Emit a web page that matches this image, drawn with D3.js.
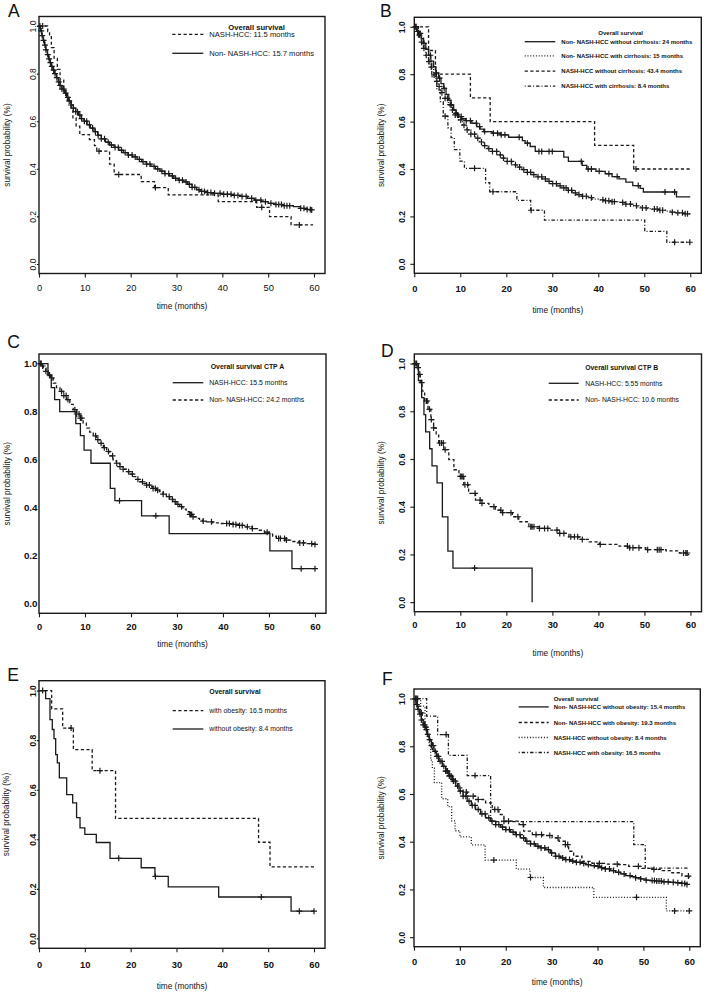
<!DOCTYPE html>
<html lang="en">
<head>
<meta charset="utf-8">
<title>Overall survival NASH-HCC vs Non- NASH-HCC</title>
<style>
    body { margin: 0; background: #fff; }
    svg { display: block; font-family: "Liberation Sans", Arial, Helvetica, sans-serif; }
    .box { fill: none; stroke: #1a1a1a; stroke-width: 1.4px; }
    .tick line { stroke: #1a1a1a; stroke-width: 1.1px; }
    .km { fill: none; stroke: #1a1a1a; stroke-width: 1.3px; }
    .cens { fill: none; stroke: #1a1a1a; stroke-width: 1.2px; }
    .leg line { stroke: #1a1a1a; stroke-width: 1.3px; }
</style>
</head>
<body>
<svg width="704" height="992"></svg>
<script src="https://cdn.jsdelivr.net/npm/d3@7"></script>
<script>
    // ticks and titles shared by all six panels
    const X_TICKS = [0, 10, 20, 30, 40, 50, 60];
    const Y_TICKS = [0, 0.2, 0.4, 0.6, 0.8, 1.0];
    const X_TITLE = "time (months)";
    const Y_TITLE = "survival probability (%)";

    // ---------- A ----------
    const A_TITLE = "Overall survival";
    const A_LABELS = ["NASH-HCC: 11.5 months", "Non- NASH-HCC: 15.7 months"];
    const a_nash_steps = [[0,1],[1.9,.977],[2.3,.955],[2.7,.909],[3.3,.864],[4.0,.818],[4.6,.773],[5.4,.727],[6.2,.682],[7.0,.656],[7.4,.614],[8.1,.579],[8.9,.544],[11.0,.523],[12.1,.497],[12.6,.474],[15.4,.42],[16.4,.376],[22.3,.346],[25.2,.321],[28.2,.29],[39.1,.262],[47.5,.238],[50.3,.199],[55.0,.164],[59.8,.164]];
    const a_nash_cens = [0.8, 13.1, 17.4, 25.4, 48.6, 56.8];
    const a_non_steps = [[0,1],[0.3,.98],[0.6,.96],[0.9,.94],[1.2,.92],[1.5,.90],[1.8,.88],[2.1,.862],[2.4,.846],[2.7,.83],[3.0,.815],[3.4,.80],[3.8,.783],[4.2,.765],[4.6,.75],[5.0,.735],[5.5,.718],[6.0,.70],[6.5,.685],[7.0,.668],[7.5,.655],[8.0,.64],[8.6,.626],[9.2,.611],[9.8,.60],[10.5,.585],[11.2,.571],[12.0,.556],[12.8,.541],[13.6,.526],[14.5,.512],[15.4,.50],[16.4,.49],[17.4,.478],[18.4,.468],[19.4,.458],[20.4,.45],[21.4,.44],[22.4,.43],[23.4,.42],[24.4,.41],[25.4,.40],[26.4,.39],[27.4,.38],[28.4,.37],[29.4,.36],[30.4,.352],[31.4,.345],[32.4,.335],[33.4,.322],[34.4,.312],[35.4,.305],[36.6,.30],[38.0,.297],[40.0,.293],[42.0,.288],[44.0,.284],[45.5,.276],[47.0,.268],[48.5,.262],[50.0,.255],[51.5,.25],[53.0,.245],[55.5,.241],[57.0,.234],[58.5,.229],[59.5,.227]];
    const a_non_cens = [0.2,0.5,0.7,1.0,1.3,1.5,1.9,2.2,2.5,2.8,3.2,3.5,3.9,4.3,4.6,5.0,5.4,5.8,6.3,6.6,7.0,7.5,8.0,8.4,8.9,9.3,9.9,10.4,11.0,11.7,12.3,12.9,13.6,14.3,15.1,15.8,16.6,17.3,18.0,18.8,19.5,20.3,21.0,21.9,22.7,23.5,24.2,25.1,25.9,26.8,27.5,28.3,29.1,29.8,30.6,31.3,32.1,32.8,33.4,34.0,34.9,35.5,36.1,36.8,37.5,38.3,39.5,40.3,41.1,41.9,42.6,43.4,44.3,45.2,46.4,47.3,48.4,49.4,50.6,51.7,52.3,52.9,53.5,54.1,54.7,57.1,57.8,58.5,59.2,59.5];

    // ---------- B ----------
    const B_TITLE = "Overall survival";
    const B_LABELS = ["Non- NASH-HCC without cirrhosis: 24 months", "Non- NASH-HCC with cirrhosis: 15 months",
                      "NASH-HCC without cirrhosis: 43.4 months", "NASH-HCC with cirrhosis: 8.4 months"];
    const b_non_nocirr_steps = [[0,1],[0.5,.985],[0.94,.972],[1.5,.95],[2.0,.93],[2.5,.905],[3.1,.88],[3.6,.855],[4.2,.832],[4.7,.805],[5.3,.783],[5.8,.76],[6.4,.74],[6.9,.715],[7.5,.69],[8.0,.67],[8.55,.649],[9.1,.635],[9.6,.621],[10.3,.612],[11.1,.604],[12.5,.593],[13.6,.579],[14.3,.568],[15.1,.558],[16.9,.551],[18.7,.544],[20.5,.534],[23.5,.52],[24.1,.509],[25.2,.495],[26.3,.474],[32.5,.45],[33.5,.432],[36.5,.415],[37.5,.40],[39.5,.39],[41.5,.38],[43.0,.368],[44.5,.358],[46.0,.345],[47.5,.33],[49.1,.318],[49.8,.303],[57.0,.282],[60,.282]];
    const b_non_nocirr_cens = [0.4,1.3,2.1,3.5,4.8,5.5,6.5,8.0,9.1,10.2,11.3,12.2,13.5,14.2,15.3,17.2,18.1,18.9,19.7,22.8,24.6,27.1,27.7,29.3,30.0,36.3,37.8,38.5,40.2,42.3,44.1,48.7,54.5,56.6];
    const b_non_cirr_steps = [[0,1],[0.5,.98],[0.94,.965],[1.5,.935],[2.0,.909],[2.5,.88],[3.1,.853],[3.6,.83],[4.2,.797],[4.7,.77],[5.3,.748],[6.0,.722],[6.7,.698],[7.4,.672],[8.2,.649],[8.9,.628],[9.6,.607],[10.5,.585],[11.4,.565],[12.3,.547],[13.3,.53],[14.2,.514],[15.1,.499],[16.0,.486],[16.9,.474],[18.0,.46],[19.1,.446],[20.2,.432],[21.2,.418],[22.3,.408],[23.4,.397],[24.5,.386],[25.6,.376],[26.7,.367],[27.8,.358],[28.9,.348],[29.9,.338],[31.0,.329],[32.1,.32],[33.2,.31],[34.3,.299],[35.4,.292],[36.4,.285],[37.5,.279],[38.6,.273],[40.0,.27],[41.5,.266],[43.0,.262],[44.4,.259],[45.8,.252],[47.3,.245],[48.4,.24],[49.5,.236],[50.6,.233],[51.7,.231],[53.2,.226],[54.6,.222],[55.7,.218],[56.7,.215],[58.4,.211],[59.8,.208]];
    const b_non_cirr_cens = [0.3,0.7,1.1,1.6,2.1,2.6,3.2,3.7,4.3,4.9,5.4,6.0,6.7,7.2,7.8,8.3,8.9,9.4,10.1,10.8,11.5,12.3,13.1,13.8,14.6,15.3,16.2,17.0,17.9,18.7,19.4,20.2,21.1,22.0,22.9,23.8,24.6,25.3,26.0,26.9,27.7,28.5,29.3,30.1,30.9,31.7,32.5,33.0,33.5,34.2,35.0,35.8,36.6,37.4,38.5,41.0,41.6,42.3,43.0,43.5,45.3,46.0,47.0,48.3,49.6,50.4,52.2,52.8,53.4,54.0,56.1,57.3,58.3,58.9,59.4];
    const b_nash_nocirr_steps = [[0,1],[3.1,.9],[4.6,.8],[12.2,.7],[16.5,.6],[39.2,.5],[47.7,.4],[60,.4]];
    const b_nash_nocirr_cens = [48.2];
    const b_nash_cirr_steps = [[0,1],[0.9,.958],[2.0,.909],[3.1,.846],[3.8,.79],[4.9,.734],[5.65,.684],[6.3,.623],[7.3,.574],[8.0,.532],[8.7,.482],[9.9,.433],[10.9,.403],[15.5,.342],[16.4,.304],[22.3,.268],[25.3,.226],[28.3,.184],[50.1,.137],[54.9,.091],[59.9,.091]];
    const b_nash_cirr_cens = [6.7, 13.1, 17.1, 25.4, 56.6, 59.9];

    // ---------- C ----------
    const C_TITLE = "Overall survival CTP A";
    const C_LABELS = ["NASH-HCC: 15.5 months", "Non- NASH-HCC: 24.2 months"];
    const c_nash_steps = [[0,1],[1.95,.95],[2.67,.9],[3.4,.85],[4.5,.8],[8.0,.75],[9.0,.70],[9.8,.64],[11.3,.585],[15.5,.48],[16.5,.429],[22.3,.366],[28.3,.292],[50.2,.22],[55.0,.146],[60,.146]];
    const c_nash_cens = [0.5, 17.5, 25.4, 57.0, 60.0];
    const c_non_steps = [[0,1],[0.5,.99],[0.94,.982],[1.5,.968],[2.0,.953],[2.5,.94],[3.1,.919],[3.8,.9],[4.55,.884],[5.3,.867],[6.0,.85],[6.7,.83],[7.45,.808],[8.2,.79],[8.9,.773],[9.6,.752],[10.3,.731],[11.0,.715],[11.8,.699],[12.5,.683],[13.2,.668],[14.0,.65],[14.7,.634],[15.4,.616],[16.1,.599],[16.8,.585],[17.6,.571],[18.3,.56],[19.0,.55],[19.8,.54],[20.5,.529],[21.2,.518],[21.9,.508],[22.6,.501],[23.4,.494],[24.1,.487],[24.8,.48],[25.5,.473],[26.2,.467],[27.0,.456],[27.7,.446],[28.4,.435],[29.1,.425],[29.8,.414],[30.6,.404],[31.3,.394],[32.0,.383],[32.7,.372],[33.5,.362],[34.2,.355],[34.9,.348],[35.6,.344],[36.4,.341],[37.8,.337],[39.3,.334],[42.2,.33],[43.6,.326],[45.0,.32],[46.4,.313],[47.9,.306],[49.0,.298],[50.1,.29],[50.8,.281],[51.6,.272],[53.7,.265],[55.2,.259],[56.6,.253],[58.3,.25],[60,.247]];
    const c_non_cens = [0.3,0.8,1.5,2.3,2.8,4.9,5.4,5.9,6.3,7.8,8.2,8.7,9.0,9.3,12.3,12.8,13.5,14.2,15.1,16.0,16.9,17.6,18.3,19.5,20.3,21.5,22.5,23.4,24.0,24.8,25.3,25.8,27.0,28.3,29.0,29.6,30.2,31.0,32.8,33.0,33.2,33.5,35.7,37.5,40.8,41.4,42.2,42.8,43.6,44.2,45.3,46.4,49.6,52.1,52.5,53.4,53.8,56.7,57.5,59.3,60.0];

    // ---------- D ----------
    const D_TITLE = "Overall survival CTP B";
    const D_LABELS = ["NASH-HCC: 5.55 months", "Non- NASH-HCC: 10.6 months"];
    const d_nash_steps = [[0,1],[0.9,.929],[1.6,.857],[2.1,.786],[2.47,.714],[3.34,.643],[3.85,.571],[4.94,.5],[6.1,.357],[7.3,.214],[8.4,.143],[25.6,0]];
    const d_nash_cens = [13.1];
    const d_non_steps = [[0,1],[0.58,.983],[0.94,.955],[1.3,.92],[1.67,.885],[2.25,.843],[2.98,.808],[3.6,.765],[4.2,.73],[4.75,.70],[5.3,.667],[6.4,.639],[7.5,.597],[8.6,.555],[9.7,.527],[10.75,.492],[11.8,.456],[13.3,.428],[14.7,.414],[16.2,.40],[17.6,.386],[19.1,.375],[21.3,.358],[22.7,.337],[24.9,.316],[27.1,.309],[29.3,.302],[31.4,.288],[33.6,.274],[35.8,.263],[38.0,.253],[40.2,.242],[44.5,.235],[46.7,.228],[50.3,.22],[54.7,.215],[57.6,.206],[59.6,.197]];
    const d_non_cens = [0.2,0.5,0.8,1.2,1.6,2.6,2.8,3.3,3.7,4.2,5.5,5.9,6.3,6.7,10.0,10.3,10.6,11.0,11.6,13.2,14.3,14.7,17.3,18.8,19.2,21.0,22.5,25.3,25.6,26.0,27.2,28.3,29.0,31.0,31.6,32.5,34.0,34.8,35.5,36.5,40.4,46.3,46.8,47.5,48.8,50.7,52.8,53.2,53.6,58.5,59.0,59.3];

    // ---------- E ----------
    const E_TITLE = "Overall survival";
    const E_LABELS = ["with obesity: 16.5 months", "without obesity: 8.4 months"];
    const e_obese_steps = [[0,1],[2.76,.926],[5.16,.849],[7.5,.762],[11.6,.677],[16.7,.484],[47.9,.388],[50.4,.289],[60,.289]];
    const e_obese_cens = [7.0, 13.3];
    const e_lean_steps = [[0,1],[1.45,.968],[2.4,.883],[2.9,.843],[3.27,.806],[3.64,.742],[4.0,.708],[4.44,.648],[6.04,.58],[7.35,.547],[8.2,.487],[8.95,.446],[10.0,.42],[12.5,.387],[15.5,.323],[22.3,.285],[25.3,.25],[28.2,.208],[39.2,.167],[55.0,.11],[60,.11]];
    const e_lean_cens = [0.8, 17.4, 25.4, 48.5, 56.8, 60.0];

    // ---------- F ----------
    const F_TITLE = "Overall survival";
    const F_LABELS = ["Non- NASH-HCC without obesity: 15.4 months", "Non- NASH-HCC with obesity: 19.3 months",
                      "NASH-HCC without obesity: 8.4 months", "NASH-HCC with obesity: 16.5 months"];
    const f_non_lean_steps = [[0,1],[0.4,.975],[0.8,.955],[1.2,.935],[1.6,.91],[2.0,.89],[2.4,.87],[2.8,.85],[3.3,.828],[3.8,.803],[4.35,.779],[4.9,.758],[5.44,.737],[6.2,.716],[6.9,.696],[7.6,.675],[8.35,.654],[9.1,.633],[9.8,.612],[10.7,.591],[11.6,.57],[12.5,.552],[13.4,.535],[14.5,.517],[15.6,.50],[16.7,.486],[17.8,.472],[18.9,.461],[20.0,.451],[21.0,.44],[22.1,.43],[23.2,.416],[24.3,.402],[25.4,.391],[26.5,.381],[27.6,.374],[28.7,.367],[29.7,.353],[30.8,.339],[31.9,.332],[33.0,.325],[34.1,.319],[35.2,.314],[36.3,.309],[37.4,.304],[38.5,.30],[39.6,.297],[40.6,.291],[41.7,.286],[42.8,.279],[43.9,.272],[45.0,.265],[46.1,.258],[47.2,.254],[48.3,.249],[49.4,.244],[50.4,.239],[51.5,.237],[52.6,.235],[54.0,.232],[55.5,.23],[57.0,.228],[58.4,.225],[59.5,.221]];
    const f_non_lean_cens = [0.3,0.6,0.9,1.3,1.6,2.0,2.3,2.7,3.0,3.4,3.8,4.2,4.6,5.0,5.3,5.7,6.1,6.5,6.9,7.3,7.7,8.1,8.6,9.0,9.5,10.1,10.7,11.3,12.0,12.7,13.3,14.0,14.8,15.5,16.3,17.0,17.8,18.5,19.3,20.0,20.8,21.6,22.3,23.1,23.9,24.6,25.4,26.2,27.0,27.7,28.5,29.3,30.0,30.9,31.6,32.4,33.1,33.9,34.6,35.4,36.2,37.0,38.0,39.3,40.1,40.9,41.7,42.6,43.5,44.6,45.8,47.1,48.3,49.4,50.6,51.9,52.4,52.9,53.4,53.9,54.5,55.4,56.5,57.5,58.4,59.0,59.5];
    const f_non_obese_steps = [[0,1],[0.73,.968],[1.3,.94],[1.8,.912],[2.4,.88],[2.9,.842],[3.5,.815],[4.0,.786],[4.7,.762],[5.4,.737],[6.2,.717],[6.9,.696],[7.6,.678],[8.35,.661],[9.1,.643],[9.8,.626],[10.7,.608],[11.6,.591],[13.4,.577],[15.6,.563],[17.05,.535],[18.5,.514],[19.6,.486],[22.9,.472],[23.9,.444],[25.8,.43],[28.0,.426],[30.1,.416],[31.6,.402],[33.0,.388],[33.7,.36],[34.8,.339],[36.6,.318],[38.8,.309],[41.7,.306],[44.6,.304],[46.8,.297],[49.7,.288],[51.9,.284],[54.1,.279],[56.2,.27],[58.4,.256],[60,.249]];
    const f_non_obese_cens = [0.5,1.6,2.6,7.0,7.8,8.5,11.4,12.9,14.0,17.6,18.3,19.6,20.6,23.8,26.6,27.8,29.6,31.4,33.0,33.5,40.4,44.3,48.9,52.3,59.8];

    // line dash styles (R lty 2, 3, 4)
    const DASH = {solid: null, dashed: "3.2,2.4", dotted: "1,1.8", dotdash: "1,2,3.4,2"};

    // layout for each panel: box = [left, right, top, bottom] in px
    const PANELS = [
        {letter: "A", lx: 8, ly: 16.7, box: [39, 325, 16.5, 273.5], bold: false,
         xLab: 17, xTitle: 35.5, yLab: 3.5, yRot: true, yTick: 2, yTitleX: 10,
         legend: {title: A_TITLE, tx: 228.3, ty: 29.5, x1: 172.3, x2: 203.3, textX: 209.3, fs: 7.6, bold: false, rows: [34.3, 53.3]},
         curves: [
             {steps: a_nash_steps, cens: a_nash_cens, dash: "dashed", label: A_LABELS[0]},
             {steps: a_non_steps, cens: a_non_cens, dash: "solid", label: A_LABELS[1]}]},
        {letter: "B", lx: 380, ly: 16.7, box: [414.3, 701.3, 17.3, 273.3], bold: true,
         xLab: 18.5, xTitle: 39.7, yLab: 9, yRot: true, yTick: 4, yTitleX: 383.5,
         legend: {title: B_TITLE, tx: 598.3, ty: 35, x1: 524.7, x2: 555.3, textX: 561.3, fs: 6, bold: true, rows: [41.7, 55.9, 71.2, 86.2]},
         curves: [
             {steps: b_non_nocirr_steps, cens: b_non_nocirr_cens, dash: "solid", label: B_LABELS[0]},
             {steps: b_non_cirr_steps, cens: b_non_cirr_cens, dash: "dotted", label: B_LABELS[1]},
             {steps: b_nash_nocirr_steps, cens: b_nash_nocirr_cens, dash: "dashed", label: B_LABELS[2]},
             {steps: b_nash_cirr_steps, cens: b_nash_cirr_cens, dash: "dotdash", label: B_LABELS[3]}]},
        {letter: "C", lx: 7.3, ly: 348.3, box: [39, 326, 354, 613.3], bold: true,
         xLab: 16.7, xTitle: 33.7, yLab: 1.5, yRot: false, yTick: 0, yTitleX: 9.5,
         legend: {title: C_TITLE, tx: 210.7, ty: 368.5, x1: 172.7, x2: 203.3, textX: 209.3, fs: 6.9, bold: false, rows: [382.7, 400]},
         curves: [
             {steps: c_nash_steps, cens: c_nash_cens, dash: "solid", label: C_LABELS[0]},
             {steps: c_non_steps, cens: c_non_cens, dash: "dashed", label: C_LABELS[1]}]},
        {letter: "D", lx: 381, ly: 356.7, box: [414.3, 701.5, 354, 611.7], bold: true,
         xLab: 16, xTitle: 44.6, yLab: 9.3, yRot: true, yTick: 4, yTitleX: 383.5,
         legend: {title: D_TITLE, tx: 585.3, ty: 369.8, x1: 548.7, x2: 578.7, textX: 585.3, fs: 6.8, bold: false, rows: [383.3, 400]},
         curves: [
             {steps: d_nash_steps, cens: d_nash_cens, dash: "solid", label: D_LABELS[0]},
             {steps: d_non_steps, cens: d_non_cens, dash: "dashed", label: D_LABELS[1]}]},
        {letter: "E", lx: 7.3, ly: 680.7, box: [39, 325, 680.7, 948.3], bold: true,
         xLab: 20, xTitle: 40.7, yLab: 3.5, yRot: true, yTick: 2, yTitleX: 9.3,
         legend: {title: E_TITLE, tx: 209.3, ty: 694.2, x1: 172.7, x2: 203.3, textX: 209.3, fs: 6.9, bold: false, rows: [710.7, 729]},
         curves: [
             {steps: e_obese_steps, cens: e_obese_cens, dash: "dashed", label: E_LABELS[0]},
             {steps: e_lean_steps, cens: e_lean_cens, dash: "solid", label: E_LABELS[1]}]},
        {letter: "F", lx: 382, ly: 685, box: [414, 700.3, 689, 946.7], bold: true,
         xLab: 18.3, xTitle: 38, yLab: 9.3, yRot: true, yTick: 4, yTitleX: 384,
         legend: {title: F_TITLE, tx: 553.7, ty: 701.3, x1: 518.7, x2: 548.7, textX: 553.7, fs: 6, bold: true, rows: [706.9, 722.5, 737.5, 752.5]},
         curves: [
             {steps: f_non_lean_steps, cens: f_non_lean_cens, dash: "solid", label: F_LABELS[0]},
             {steps: f_non_obese_steps, cens: f_non_obese_cens, dash: "dashed", label: F_LABELS[1]},
             {steps: e_lean_steps, cens: e_lean_cens, dash: "dotted", label: F_LABELS[2]},
             {steps: e_obese_steps, cens: e_obese_cens, dash: "dotdash", label: F_LABELS[3]}]}
    ];

    const svg = d3.select("svg");

    // survival value of a step function at time t
    function survAt(steps, t) {
        let v = steps[0][1];
        for (const p of steps) {
            if (p[0] <= t) v = p[1];
            else break;
        }
        return v;
    }

    function drawPanel(p) {
        const g = svg.append("g").attr("class", "panel");
        const [L, R, T, B] = p.box;

        // plot.survfit style: 0 on the left edge, 4% pad on the right; 4% pad on y
        const x = d3.scaleLinear().domain([0, 62.4]).range([L, R]);
        const y = d3.scaleLinear().domain([-0.04, 1.04]).range([B, T]);

        // panel letter
        g.append("text").attr("x", p.lx).attr("y", p.ly)
            .attr("font-size", 17.5).attr("fill", "#111").text(p.letter);

        // x axis
        const xa = g.append("g").attr("transform", "translate(0," + B + ")")
            .call(d3.axisBottom(x).tickValues(X_TICKS).tickSize(4).tickFormat(d3.format("d")));
        xa.select(".domain").remove();
        xa.attr("font-family", null).attr("font-size", 9.4).attr("font-weight", p.bold ? "bold" : "normal");
        xa.selectAll("text").attr("y", p.xLab).attr("dy", null).attr("fill", "#111");

        // y axis
        const ya = g.append("g").attr("transform", "translate(" + L + ",0)")
            .call(d3.axisLeft(y).tickValues(Y_TICKS).tickSize(p.yTick).tickFormat(d3.format(".1f")));
        ya.select(".domain").remove();
        ya.attr("font-family", null).attr("font-size", p.yRot ? 8.5 : 9.8).attr("font-weight", p.bold ? "bold" : "normal");
        if (p.yRot) {
            ya.selectAll("text").attr("transform", "rotate(-90)")
                .attr("x", 0).attr("y", -p.yLab).attr("dy", null)
                .attr("text-anchor", "middle").attr("fill", "#111");
        } else {
            ya.selectAll("text").attr("x", -p.yLab).attr("fill", "#111");
        }

        // axis titles
        g.append("text").attr("x", (L + R) / 2).attr("y", B + p.xTitle)
            .attr("text-anchor", "middle").attr("font-size", 8.3).attr("fill", "#111").text(X_TITLE);
        g.append("text")
            .attr("transform", "translate(" + p.yTitleX + "," + (T + B) / 2 + ") rotate(-90)")
            .attr("text-anchor", "middle").attr("font-size", 8.3).attr("fill", "#111").text(Y_TITLE);

        // KM curves
        const line = d3.line().curve(d3.curveStepAfter)
            .x(d => x(d[0])).y(d => y(d[1]));

        p.curves.forEach(c => {
            g.append("path").datum(c.steps)
                .attr("class", "km")
                .attr("stroke-dasharray", DASH[c.dash])
                .attr("d", line);

            // censoring marks "+"
            g.append("path").attr("class", "cens")
                .attr("d", c.cens.map(t => {
                    const cx = x(t), cy = y(survAt(c.steps, t));
                    return "M" + (cx - 3) + "," + cy + "h6M" + cx + "," + (cy - 3) + "v6";
                }).join(""));
        });

        // box
        g.append("rect").attr("class", "box")
            .attr("x", L).attr("y", T).attr("width", R - L).attr("height", B - T);

        // legend
        const lg = p.legend;
        const leg = g.append("g").attr("class", "leg")
            .attr("font-size", lg.fs).attr("fill", "#111");
        leg.append("text").attr("x", lg.tx).attr("y", lg.ty)
            .attr("font-weight", "bold").text(lg.title);
        const rows = leg.selectAll("g.row").data(p.curves).enter().append("g").attr("class", "row");
        rows.append("line")
            .attr("x1", lg.x1).attr("x2", lg.x2)
            .attr("y1", (d, i) => lg.rows[i]).attr("y2", (d, i) => lg.rows[i])
            .attr("stroke-dasharray", d => DASH[d.dash]);
        rows.append("text")
            .attr("x", lg.textX).attr("y", (d, i) => lg.rows[i])
            .attr("dy", "0.35em")
            .attr("font-weight", lg.bold ? "bold" : "normal")
            .text(d => d.label);
    }

    PANELS.forEach(drawPanel);
</script>
</body>
</html>
